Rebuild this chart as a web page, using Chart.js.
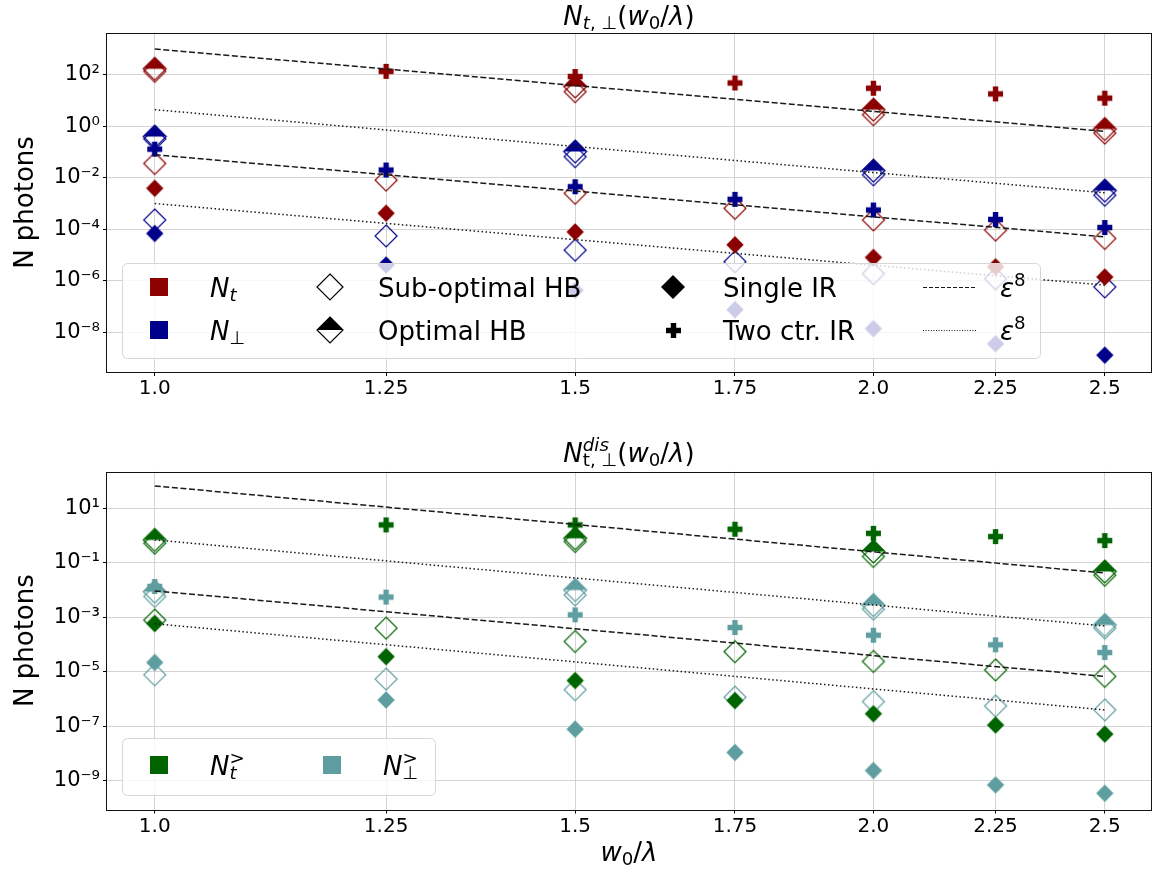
<!DOCTYPE html>
<html>
<head>
<meta charset="utf-8">
<script src="https://cdn.jsdelivr.net/npm/chart.js@4/dist/chart.umd.min.js"></script>
<style>
  body { margin: 0; background: #fff; }
  canvas { position: absolute; left: 0; }
</style>
</head>
<body>
<canvas id="top" width="1162" height="437" style="top:0"></canvas>
<canvas id="bottom" width="1162" height="438" style="top:437px"></canvas>
<script>
// w0/lambda positions
const xVals = [1.0, 1.25, 1.5, 1.75, 2.0, 2.25, 2.5];
const xHB = [1.0, 1.5, 2.0, 2.5];
const xFit = [1.0, 2.5];
const xTickLabels = ['1.0', '1.25', '1.5', '1.75', '2.0', '2.25', '2.5'];

const yTicksTop = [1e-8, 1e-6, 1e-4, 1e-2, 1, 1e2];
const yTickLabelsTop = ['10⁻⁸', '10⁻⁶', '10⁻⁴', '10⁻²', '10⁰', '10²'];
const yTicksBot = [1e-9, 1e-7, 1e-5, 1e-3, 1e-1, 10];
const yTickLabelsBot = ['10⁻⁹', '10⁻⁷', '10⁻⁵', '10⁻³', '10⁻¹', '10¹'];

// top panel : N_t (red) and N_perp (blue)
const ntOptHB = [170, 35, 4.4, 0.78];
const ntSubHBa = [135, 22, 2.8, 0.54];
const npOptHB = [0.40, 0.105, 0.019, 0.0032];
const npSubHBa = [0.32, 0.066, 0.013, 0.0021];
const ntSubHB = [3.6e-2, 8.1e-3, 2.5e-3, 6.5e-4, 2.3e-4, 9.3e-5, 4.4e-5];
const npSubHB = [2.3e-4, 5.5e-5, 1.55e-5, 5.5e-6, 1.9e-6, 1.2e-6, 5.8e-7];
const ntSingle = [3.9e-3, 4.2e-4, 7.9e-5, 2.5e-5, 8.1e-6, 3.5e-6, 1.4e-6];
const npSingle = [6.9e-5, 4.1e-6, 4.3e-7, 7.6e-8, 1.4e-8, 3.6e-9, 1.3e-9];
const ntTwo = [null, 135, 85, 48, 30, 18, 12.3];
const npTwo = [0.129, 0.020, 4.5e-3, 1.45e-3, 5.6e-4, 2.4e-4, 1.17e-4];
const topDashA = [1e3, 0.63];
const topDashB = [7.8e-2, 5.1e-5];
const topDotA = [4.4, 2.6e-3];
const topDotB = [1.0e-3, 6.8e-7];

// bottom panel : N_t^> (green) and N_perp^> (cadet)
const gtOptHB = [0.69, 0.79, 0.26, 0.048];
const gtSubHBa = [0.52, 0.60, 0.17, 0.035];
const gpOptHB = [8.7e-3, 1.0e-2, 2.8e-3, 5.2e-4];
const gpSubHBa = [5.8e-3, 6.6e-3, 2.0e-3, 4.0e-4];
const gtSubHB = [7.9e-4, 4.0e-4, 1.3e-4, 5.5e-5, 2.4e-5, 1.17e-5, 6.8e-6];
const gpSubHB = [7.8e-6, 5.4e-6, 2.2e-6, 1.17e-6, 8.1e-7, 5.6e-7, 4.0e-7];
const gtSingle = [6.0e-4, 3.6e-5, 4.8e-6, 8.9e-7, 2.9e-7, 1.12e-7, 5.2e-8];
const gpSingle = [2.2e-5, 9.3e-7, 7.9e-8, 1.1e-8, 2.4e-9, 7.1e-10, 3.5e-10];
const gtTwo = [null, 2.45, 2.45, 1.7, 1.2, 0.91, 0.65];
const gpTwo = [1.35e-2, 5.5e-3, 1.23e-3, 4.2e-4, 2.2e-4, 9.8e-5, 5.1e-5];
const botDashA = [66, 0.042];
const botDashB = [9.3e-3, 6.8e-6];
const botDotA = [0.69, 4.8e-4];
const botDotB = [5.8e-4, 4.0e-7];

const RED = '#8b0000', BLUE = '#00008b', GREEN = '#006400', CADET = '#5f9ea0';
const FONT = '"DejaVu Sans", sans-serif';
const DASH = [6, 2.6], DOT = [1.5, 2.5];

Chart.defaults.font.family = FONT;
Chart.defaults.color = '#000';

// marker images (matplotlib-like D, half-filled D, P)
function marker(kind, color, r) {
  const c = document.createElement('canvas');
  const s = Math.ceil(2 * r + 4);
  c.width = c.height = s;
  const g = c.getContext('2d');
  const m = s / 2;
  g.lineWidth = 1.2;
  g.strokeStyle = color;
  g.fillStyle = color;
  const diamond = () => {
    g.beginPath();
    g.moveTo(m, m - r); g.lineTo(m + r, m); g.lineTo(m, m + r); g.lineTo(m - r, m);
    g.closePath();
  };
  if (kind === 'plus') {
    const b = r * 0.36;
    g.beginPath();
    g.moveTo(m - b, m - r); g.lineTo(m + b, m - r); g.lineTo(m + b, m - b);
    g.lineTo(m + r, m - b); g.lineTo(m + r, m + b); g.lineTo(m + b, m + b);
    g.lineTo(m + b, m + r); g.lineTo(m - b, m + r); g.lineTo(m - b, m + b);
    g.lineTo(m - r, m + b); g.lineTo(m - r, m - b); g.lineTo(m - b, m - b);
    g.closePath();
    g.fill();
  } else if (kind === 'filled') {
    diamond(); g.fill();
  } else if (kind === 'half') {
    g.beginPath();
    g.moveTo(m - r, m); g.lineTo(m, m - r); g.lineTo(m + r, m); g.closePath();
    g.fill();
    diamond(); g.stroke();
  } else {
    diamond(); g.stroke();
  }
  return c;
}
function markerSet(color, big) {
  return {
    open: marker('open', color, big ? 13 : 11),
    half: marker('half', color, big ? 13 : 11.5),
    filled: marker('filled', color, big ? 12 : 8.7),
    plus: marker('plus', color, 7.5)
  };
}

// small mathtext-ish renderer
function setFont(ctx, size, it) { ctx.font = (it ? 'italic ' : '') + size + 'px ' + FONT; }
function partWidth(ctx, p, size) {
  if (p.stack) return Math.max(partWidth(ctx, p.stack[0], size), partWidth(ctx, p.stack[1], size));
  setFont(ctx, p.v ? size * 0.7 : size, p.i);
  return ctx.measureText(p.t).width;
}
function drawRich(ctx, parts, x, y, size, align) {
  let w = 0;
  parts.forEach(p => { w += partWidth(ctx, p, size); });
  let cx = align === 'center' ? x - w / 2 : x;
  parts.forEach(p => {
    const items = p.stack ? p.stack : [p];
    items.forEach(q => {
      const dy = q.v === 'sub' ? size * 0.17 : q.v === 'sup' ? -size * 0.42 : 0;
      setFont(ctx, q.v ? size * 0.7 : size, q.i);
      ctx.fillText(q.t, cx, y + dy);
    });
    cx += partWidth(ctx, p, size);
  });
}

const mplLegend = {
  id: 'mplLegend',
  afterDatasetsDraw(chart, args, o) {
    const ca = chart.chartArea, ctx = chart.ctx;
    const x0 = ca.left + o.x, y0 = ca.bottom - o.bottom - o.h;
    ctx.save();
    ctx.beginPath();
    ctx.roundRect(x0 + 0.5, y0 + 0.5, o.w, o.h, 5);
    ctx.fillStyle = 'rgba(255,255,255,0.8)';
    ctx.fill();
    ctx.strokeStyle = '#d6d6d6';
    ctx.lineWidth = 1;
    ctx.stroke();
    o.items.forEach(it => {
      const cx = x0 + it.dx, cy = y0 + it.dy;
      if (it.dash) {
        ctx.strokeStyle = '#1a1a1a';
        ctx.lineWidth = 1;
        ctx.setLineDash(it.dash);
        ctx.beginPath(); ctx.moveTo(cx - 27, cy + 0.5); ctx.lineTo(cx + 27, cy + 0.5); ctx.stroke();
        ctx.setLineDash([]);
      } else if (it.square) {
        ctx.fillStyle = it.square;
        ctx.fillRect(cx - 9, cy - 9, 18, 18);
      } else {
        ctx.drawImage(it.img, Math.round(cx - it.img.width / 2), Math.round(cy - it.img.height / 2));
      }
      ctx.fillStyle = '#000';
      drawRich(ctx, it.label, x0 + it.tx, cy + 9.5, 26, 'left');
    });
    ctx.restore();
  }
};

const mplText = {
  id: 'mplText',
  afterDraw(chart, args, o) {
    const ca = chart.chartArea, ctx = chart.ctx;
    ctx.save();
    ctx.fillStyle = '#000';
    ctx.textBaseline = 'alphabetic';
    o.items.forEach(t => drawRich(ctx, t.parts, (ca.left + ca.right) / 2, t.y, t.size, 'center'));
    ctx.strokeStyle = '#111';
    ctx.lineWidth = 1;
    ctx.strokeRect(Math.round(ca.left) - 0.5, Math.round(ca.top) + 0.5,
      Math.round(ca.right - ca.left) + 1, Math.round(ca.bottom - ca.top));
    ctx.restore();
  }
};

function pts(xs, ys) {
  return xs.map((x, i) => ({ x: x, y: ys[i] })).filter(p => p.y !== null);
}
function marks(label, xs, ys, img, order) {
  return { label, data: pts(xs, ys), pointStyle: img, pointRadius: 10, pointHoverRadius: 10, showLine: false, order };
}
function fit(label, ys, dash) {
  return { label, data: pts(xFit, ys), showLine: true, borderColor: '#1a1a1a', borderWidth: 1.5,
    borderDash: dash, pointRadius: 0, order: 0 };
}
function panelSets(c1, c2, d) {
  const a = markerSet(c1), b = markerSet(c2);
  return [
    fit('eps8 a', d.dashA, DASH), fit('eps8 b', d.dashB, DASH),
    fit('eps8 c', d.dotA, DOT), fit('eps8 d', d.dotB, DOT),
    marks('t two', xVals, d.tTwo, a.plus, 1),
    marks('p two', xVals, d.pTwo, b.plus, 1),
    marks('t single', xVals, d.tSingle, a.filled, 2),
    marks('p single', xVals, d.pSingle, b.filled, 2),
    marks('t opt', xHB, d.tOpt, a.half, 3),
    marks('p opt', xHB, d.pOpt, b.half, 3),
    marks('t sub a', xHB, d.tSubA, a.open, 4),
    marks('p sub a', xHB, d.pSubA, b.open, 4),
    marks('t sub', xVals, d.tSub, a.open, 4),
    marks('p sub', xVals, d.pSub, b.open, 4)
  ];
}

function makeChart(id, sets, cfg) {
  return new Chart(document.getElementById(id), {
    type: 'scatter',
    data: { datasets: sets },
    plugins: [mplLegend, mplText],
    options: {
      responsive: false,
      animation: false,
      events: [],
      layout: { padding: { left: 0, right: 10, top: cfg.padTop, bottom: 0 } },
      plugins: {
        legend: { display: false },
        tooltip: { enabled: false },
        mplLegend: cfg.legend,
        mplText: { items: cfg.texts }
      },
      scales: {
        x: {
          type: 'logarithmic',
          min: 0.955, max: 2.614,
          bounds: 'data',
          afterBuildTicks: s => { s.ticks = xVals.map(v => ({ value: v })); },
          afterFit: s => { s.height = cfg.xAxisH; },
          border: { display: false },
          grid: { color: '#d4d4d4', tickColor: '#000', tickLength: 4, lineWidth: 1 },
          ticks: { autoSkip: false, maxRotation: 0, padding: 1, font: { size: 20 },
            callback: (v, i) => xTickLabels[i] }
        },
        y: {
          type: 'logarithmic',
          min: cfg.yMin, max: cfg.yMax,
          bounds: 'data',
          afterBuildTicks: s => { s.ticks = cfg.yTicks.map(v => ({ value: v })); },
          afterFit: s => { s.width = 107; },
          border: { display: false },
          grid: { color: '#d4d4d4', tickColor: '#000', tickLength: 4, lineWidth: 1 },
          ticks: { autoSkip: false, padding: 3, font: { size: 21 },
            callback: (v, i) => cfg.yLabels[i] },
          title: { display: true, text: 'N photons', font: { size: 26 }, padding: { top: 11, bottom: 0 } }
        }
      }
    }
  });
}

const eps8 = [{ t: 'ε', i: true }, { t: '8', v: 'sup' }];
const argPart = [{ t: '(' }, { t: 'w', i: true }, { t: '0', v: 'sub' }, { t: '/' }, { t: 'λ', i: true }, { t: ')' }];
const kR = markerSet('#000', true);

makeChart('top', panelSets(RED, BLUE, {
  dashA: topDashA, dashB: topDashB, dotA: topDotA, dotB: topDotB,
  tTwo: ntTwo, pTwo: npTwo, tSingle: ntSingle, pSingle: npSingle,
  tOpt: ntOptHB, pOpt: npOptHB, tSubA: ntSubHBa, pSubA: npSubHBa, tSub: ntSubHB, pSub: npSubHB
}), {
  padTop: 33, xAxisH: 65,
  yMin: Math.pow(10, -9.54), yMax: Math.pow(10, 3.62),
  yTicks: yTicksTop, yLabels: yTickLabelsTop,
  texts: [{ y: 25, size: 26, parts: [{ t: 'N', i: true }, { t: 't', i: true, v: 'sub' }, { t: ', ⊥', v: 'sub' }].concat(argPart) }],
  legend: {
    x: 15, bottom: 14, w: 918, h: 95,
    items: [
      { dx: 37, dy: 24, tx: 88, square: RED, label: [{ t: 'N', i: true }, { t: 't', i: true, v: 'sub' }] },
      { dx: 37, dy: 67, tx: 88, square: BLUE, label: [{ t: 'N', i: true }, { t: '⊥', v: 'sub' }] },
      { dx: 208, dy: 24, tx: 256, img: kR.open, label: [{ t: 'Sub-optimal HB' }] },
      { dx: 208, dy: 67, tx: 256, img: kR.half, label: [{ t: 'Optimal HB' }] },
      { dx: 551, dy: 24, tx: 601, img: kR.filled, label: [{ t: 'Single IR' }] },
      { dx: 551, dy: 67, tx: 601, img: kR.plus, label: [{ t: 'Two ctr. IR' }] },
      { dx: 828, dy: 24, tx: 878, dash: [4, 2], label: eps8 },
      { dx: 828, dy: 67, tx: 878, dash: [1, 1.6], label: eps8 }
    ]
  }
});

makeChart('bottom', panelSets(GREEN, CADET, {
  dashA: botDashA, dashB: botDashB, dotA: botDotA, dotB: botDotB,
  tTwo: gtTwo, pTwo: gpTwo, tSingle: gtSingle, pSingle: gpSingle,
  tOpt: gtOptHB, pOpt: gpOptHB, tSubA: gtSubHBa, pSubA: gpSubHBa, tSub: gtSubHB, pSub: gpSubHB
}), {
  padTop: 34.7, xAxisH: 65.5,
  yMin: Math.pow(10, -10.05), yMax: Math.pow(10, 2.34),
  yTicks: yTicksBot, yLabels: yTickLabelsBot,
  texts: [
    { y: 25, size: 26, parts: [{ t: 'N', i: true },
      { stack: [{ t: 'dis', i: true, v: 'sup' }, { t: 't, ⊥', v: 'sub' }] }].concat(argPart) },
    { y: 424, size: 26, parts: [{ t: 'w', i: true }, { t: '0', v: 'sub' }, { t: '/' }, { t: 'λ', i: true }] }
  ],
  legend: {
    x: 15, bottom: 14.5, w: 313, h: 57,
    items: [
      { dx: 37, dy: 27, tx: 88, square: GREEN,
        label: [{ t: 'N', i: true }, { stack: [{ t: '>', v: 'sup' }, { t: 't', i: true, v: 'sub' }] }] },
      { dx: 210, dy: 27, tx: 261, square: CADET,
        label: [{ t: 'N', i: true }, { stack: [{ t: '>', v: 'sup' }, { t: '⊥', v: 'sub' }] }] }
    ]
  }
});
</script>
</body>
</html>
